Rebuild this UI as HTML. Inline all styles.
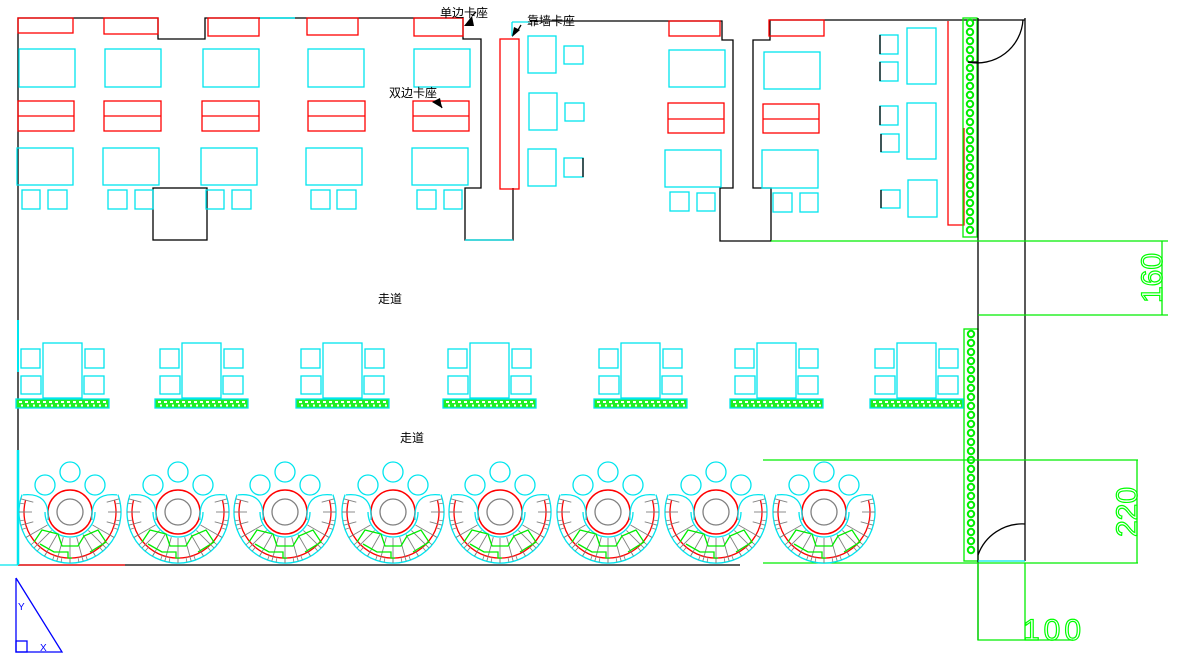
<!DOCTYPE html>
<html><head><meta charset="utf-8"><style>
html,body{margin:0;padding:0;background:#fff;width:1181px;height:656px;overflow:hidden}
svg{display:block}
text{font-family:"Liberation Sans","Noto Sans CJK SC",sans-serif}
</style></head><body>
<svg id="s" width="1181" height="656" viewBox="0 0 1181 656" xmlns="http://www.w3.org/2000/svg" fill="none" stroke-width="1.3">
<g id="g"></g>
<g fill="#000" stroke="none" font-size="12">
<text x="440" y="17">单边卡座</text>
<text x="389" y="97">双边卡座</text>
<text x="527" y="25">靠墙卡座</text>
<text x="378" y="303">走道</text>
<text x="400" y="442">走道</text>
</g>
<g fill="none" stroke="#00ff00" stroke-width="1.2" font-size="32" font-family="Liberation Sans,sans-serif">
<text transform="translate(1162,278) rotate(-90)" text-anchor="middle" font-size="30">160</text>
<text transform="translate(1137,512) rotate(-90)" text-anchor="middle" font-size="30">220</text>
<text x="1023" y="640" font-size="30" letter-spacing="4">100</text>
</g>
<g fill="#00f" stroke="none" font-size="10">
<text x="18" y="610">Y</text>
<text x="40" y="651">X</text>
</g>
</svg>
<script>
var g=document.getElementById('g'),h='';
function R(x1,y1,x2,y2,c){h+='<rect x="'+x1+'" y="'+y1+'" width="'+(x2-x1)+'" height="'+(y2-y1)+'" stroke="'+c+'"/>';}
function P(pts,c,w){h+='<polyline points="'+pts+'" stroke="'+c+'"'+(w?' stroke-width="'+w+'"':'')+'/>';}
function L(x1,y1,x2,y2,c,w){P(x1+','+y1+' '+x2+','+y2,c,w);}
var K='#000',C='#00e5ee',Rd='#ff0000',G='#00ee00',Gy='#808080';
// walls
P('18,565 18,18 158,18 158,39 205,39 205,18 463,18 463,39 481,39 481,188 465,188 465,240 513,240 513,188',K);
L(260,18,295,18,C,1.5);
L(465,240,513,240,C);
P('530,21 722,21 722,40 733,40 733,188 720,188 720,241 771,241 771,188 753,188 753,40 770,40 770,20 1025,20',K);
L(512,22,530,22,C);L(512,22,512,36,C);
R(500,39,519,189,Rd);
R(153,188,207,240,K);
L(18,565,740,565,K);L(18,565,125,565,Rd);L(0,565,18,565,C);
L(18,320,18,372,C,2);L(18,450,18,565,C,2.5);
// top tables
var cols=[[18,74,18,73,18,33],[104,161,104,158,18,34],[203,259,208,259,18,36],[308,364,307,358,18,35],[414,470,414,463,18,36]];
var c2=[[19,75],[105,161],[203,259],[308,364],[414,470]];
var c3=[[18,74],[104,161],[202,259],[308,365],[413,469]];
var c4=[[17,73],[103,159],[201,257],[306,362],[412,468]];
var c5=[[22,40,48,67],[108,127,135,153],[206,224,232,251],[311,330,337,356],[417,436,444,462]];
for(var i=0;i<5;i++){var c=cols[i];R(c[2],c[4],c[3],c[5],Rd);
R(c2[i][0],49,c2[i][1],87,C);
R(c3[i][0],101,c3[i][1],131,Rd);L(c3[i][0],116,c3[i][1],116,Rd);
R(c4[i][0],148,c4[i][1],185,C);
R(c5[i][0],190,c5[i][1],209,C);R(c5[i][2],190,c5[i][3],209,C);}
// middle
R(528,36,556,73,C);R(529,93,557,130,C);R(528,149,556,186,C);
R(564,46,583,64,C);R(565,103,584,121,C);R(564,158,583,177,C);L(583,158,583,177,K);
R(669,21,720,36,Rd);R(669,50,725,87,C);R(668,103,724,133,Rd);L(668,119,724,119,Rd);R(665,150,721,187,C);R(670,192,689,211,C);R(697,193,715,211,C);
R(769,20,824,36,Rd);R(764,52,820,89,C);R(763,104,819,133,Rd);L(763,119,819,119,Rd);R(762,150,818,188,C);R(773,193,792,212,C);R(800,193,818,212,C);
// far right
R(880,35,898,54,C);R(880,62,898,81,C);R(880,106,898,125,C);R(881,134,899,152,C);R(881,190,900,208,C);
L(880,35,880,54,K);L(880,62,880,81,K);L(880,106,880,125,K);L(881,134,881,152,K);L(881,190,881,208,K);
R(907,28,936,84,C);R(907,103,936,159,C);R(908,180,937,217,C);
P('948,21 948,225 964,225 964,128',Rd);
// planters vertical
function VP(x1,y1,x2,y2){R(x1,y1,x2,y2,G);for(var y=y1+5;y<y2-2;y+=9){h+='<circle cx="'+((x1+x2)/2)+'" cy="'+y+'" r="3.2" stroke="'+G+'" stroke-width="2"/>';}}
VP(963,18,977,237);VP(964,329,978,561);
// right walls
L(978,18,978,640,K);L(1025,18,1025,561,K);
h+='<path d="M1023,20 A46,46 0 0 1 968,62" stroke="#000"/>';L(968,62,978,62,K);
h+='<path d="M1025,524 A47,47 0 0 0 978,555" stroke="#000"/>';
L(978,561,1025,561,C);
// dims
L(771,241,1168,241,G);L(978,315,1168,315,G);L(1162,241,1162,315,G);
L(763,460,1138,460,G);L(763,563,1138,563,G);L(1137,460,1137,563,G);
P('978,563 978,640 1073,640',G);L(1025,563,1025,640,G);
// middle row
var ps=[16,155,296,443,594,730,870];
for(var i=0;i<7;i++){var p=ps[i];R(p+27,343,p+66,398,C);R(p+5,349,p+24,368,C);R(p+5,376,p+25,394,C);R(p+69,349,p+88,368,C);R(p+68,376,p+88,394,C);
h+='<rect x="'+p+'" y="399" width="93" height="9" fill="#22ee22" stroke="'+C+'"/>';
for(var x=p+3;x<p+92;x+=6){h+='<rect x="'+x+'" y="401" width="3" height="2" fill="#fff" stroke="none"/><rect x="'+(x+2)+'" y="404.5" width="2" height="2" fill="#fff" stroke="none"/>';}}
// booths
var cx=[70,178,285,393,500,608,716,824],cy=512;
function pt(x,r,a){a=a*Math.PI/180;return [(x+r*Math.cos(a)).toFixed(1),(cy+r*Math.sin(a)).toFixed(1)];}
function arc(x,r,a1,a2,c){var s=pt(x,r,a1),e=pt(x,r,a2);h+='<path d="M'+s+' A'+r+','+r+' 0 1 0 '+e+'" stroke="'+c+'"/>';}
for(var i=0;i<8;i++){var x=cx[i];
h+='<circle cx="'+x+'" cy="'+cy+'" r="13" stroke="'+Gy+'"/><circle cx="'+x+'" cy="'+cy+'" r="22" stroke="'+Rd+'" stroke-width="1.5"/>';
h+='<circle cx="'+(x-25)+'" cy="485" r="10" stroke="'+C+'"/><circle cx="'+x+'" cy="472" r="10" stroke="'+C+'"/><circle cx="'+(x+25)+'" cy="485" r="10" stroke="'+C+'"/>';
arc(x,51,200,-20,C);arc(x,46,195,-15,Rd);
h+='<path d="M'+pt(x,25,0)+' A25,25 0 0 1 '+pt(x,25,180)+'" stroke="'+C+'"/>';
h+='<path d="M'+pt(x,50,200)+' Q'+(x-20)+','+(cy-20)+' '+(x-22)+','+(cy+8)+'" stroke="'+C+'"/>';
h+='<path d="M'+pt(x,50,-20)+' Q'+(x+20)+','+(cy-20)+' '+(x+22)+','+(cy+8)+'" stroke="'+C+'"/>';
for(var a=-15;a<=195;a+=15){var s=pt(x,(a>20&&a<160)?26:38,a),e=pt(x,51,a);L(s[0],s[1],e[0],e[1],Gy,0.9);}
for(var a=-10;a<=190;a+=10){var s=pt(x,46,a),e=pt(x,51,a);L(s[0],s[1],e[0],e[1],Gy,0.8);}
P((x-36)+','+(cy+30)+' '+(x-28)+','+(cy+18)+' '+(x-12)+','+(cy+22)+' '+(x-8)+','+(cy+34)+' '+(x+8)+','+(cy+34)+' '+(x+14)+','+(cy+24)+' '+(x+28)+','+(cy+18)+' '+(x+36)+','+(cy+30)+' '+(x+20)+','+(cy+40),G);
P((x-30)+','+(cy+32)+' '+(x-16)+','+(cy+40)+' '+(x-2)+','+(cy+40)+' '+(x-2)+','+(cy+46)+' '+(x+2)+','+(cy+46),G);
}
// arrows
h+='<polygon points="464,26 472,16 474,26" fill="#000" stroke="none"/><polygon points="432,102 440,98 442,108" fill="#000" stroke="none"/><polygon points="512,37 514,27 520,30" fill="#000" stroke="none"/>';
L(472,16,476,12,K);L(442,108,439,101,K);L(518,30,521,25,K);
// axis
P('16,578 16,652 62,652 16,578',"#00f");R(16,641,27,652,"#00f");
g.innerHTML=h;
</script>
</body></html>
